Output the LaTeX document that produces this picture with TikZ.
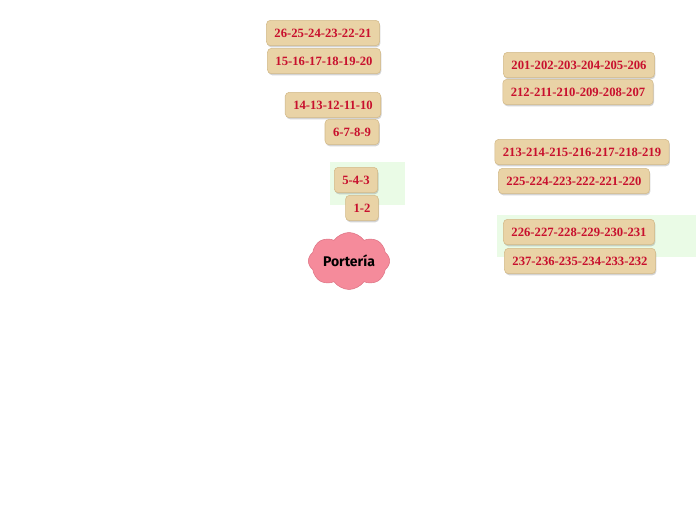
\documentclass[tikz,border=0pt]{standalone}
\usepackage{fontspec}
\setmainfont{Liberation Serif}
\newfontfamily\cloudfont{Fira Sans}
\usepackage{tikz}
\usetikzlibrary{shapes.symbols,shadows}
\usepackage{xcolor}
\definecolor{seatred}{HTML}{C8102E}
\definecolor{seattan}{HTML}{E9D3A6}
\definecolor{seatedge}{HTML}{D2B987}
\definecolor{zonegreen}{HTML}{EAFBE6}
\definecolor{goalpink}{HTML}{F58B9B}
\definecolor{goaledge}{HTML}{DE7384}

\begin{document}
\begin{tikzpicture}[x=0.75pt,y=-0.75pt,
  row/.style={draw=seatedge, fill=seattan, rounded corners=3pt, inner xsep=6pt, minimum height=19pt,
    text=seatred, font=\fontsize{9.5}{10}\selectfont\bfseries,
    drop shadow={shadow xshift=0.6pt, shadow yshift=-1.2pt, opacity=0.35}},
  zone/.style={fill=zonegreen, draw=none}]
\useasboundingbox (0,0) rectangle (696,520);
% highlighted zones
\fill[zone] (330,162) rectangle (405,205);
\fill[zone] (497,215) rectangle (696,257);
% left stand
\node[row] (r21) at (323,33) {26-25-24-23-22-21};
\node[row] (r15) at (324,61) {15-16-17-18-19-20};
\node[row] (r10) at (333,105) {14-13-12-11-10};
\node[row] (r6) at (352,132) {6-7-8-9};
\node[row] (r3) at (356,180) {5-4-3};
\node[row] (r1) at (362,208) {1-2};
% goal
\node[cloud, cloud puffs=8, cloud puff arc=110, aspect=1.6, fill=goalpink, draw=goaledge,
  minimum width=61pt, minimum height=40pt, inner sep=0pt,
  font=\cloudfont\fontsize{10.5}{11}\selectfont\bfseries] (goal) at (349,261) {Portería};
% right stand
\node[row] (r201) at (579,65) {201-202-203-204-205-206};
\node[row] (r207) at (578,92) {212-211-210-209-208-207};
\node[row] (r213) at (582,152) {213-214-215-216-217-218-219};
\node[row] (r220) at (574,181) {225-224-223-222-221-220};
\node[row] (r226) at (579,232) {226-227-228-229-230-231};
\node[row] (r232) at (580,261) {237-236-235-234-233-232};
\end{tikzpicture}
\end{document}
